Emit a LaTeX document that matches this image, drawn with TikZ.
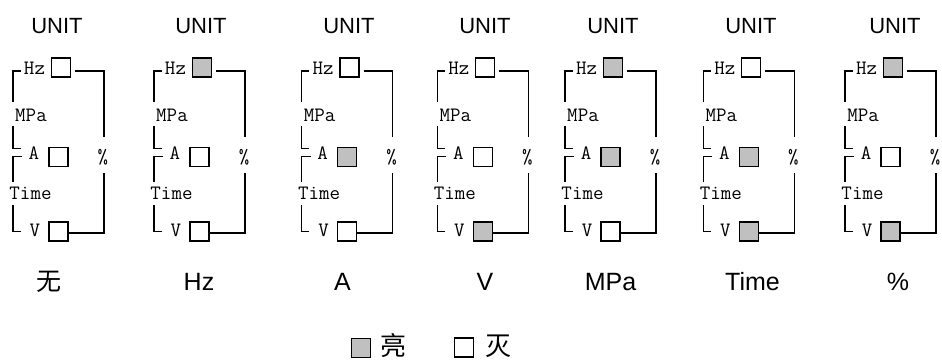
\documentclass[tikz,border=0pt]{standalone}
\usepackage{fontspec}
\newfontfamily\cjk{Noto Sans CJK SC}
\newfontfamily\arial{Liberation Sans}
\definecolor{litg}{RGB}{192,192,192}
\begin{document}
\begin{tikzpicture}[x=1pt,y=-1pt,
  lamp/.style={draw,line width=1.4pt,minimum size=19pt,inner sep=0pt},
  ptxt/.style={font=\ttfamily\fontsize{20.4}{20.4}\selectfont,inner sep=0pt,anchor=base},
  unit/.style={font=\arial\fontsize{22}{22}\selectfont,inner sep=0pt,anchor=base},
  lab/.style={font=\arial\fontsize{25}{25}\selectfont,inner sep=0pt,anchor=base},
  cjklab/.style={font=\cjk\fontsize{26}{26}\selectfont,inner sep=0pt},
  wire/.style={line width=1.4pt}]
\useasboundingbox (0,0) rectangle (942,360);
\foreach \n/\X/\hf/\af/\vf/\ux/\lab/\lx in {
  1/50.7/white/white/white/57/{\cjk 无}/49,
  2/191.7/litg/white/white/201/Hz/199,
  3/339.3/white/litg/white/349/A/342.5,
  4/475/white/white/litg/485/V/485,
  5/602.7/litg/litg/white/613/MPa/610.5,
  6/741/white/litg/litg/751/Time/752.5,
  7/882.7/litg/white/litg/895/\%/898}{
  \node[unit] (u\n) at (\ux,33.3) {UNIT};
  \node[lab] (l\n) at (\lx,290) {\lab};
  \begin{scope}[shift={(\X,0)}]
    \node[lamp,fill=\hf] (hz\n) at (10.15,67.5) {};
    \node[lamp,fill=\af] (a\n) at (7.95,157) {};
    \node[lamp,fill=\vf] (v\n) at (7.95,231.3) {};
    \node[ptxt] (thz\n) at (-16.2,74) {Hz};
    \node[ptxt] (tmpa\n) at (-19.7,121) {MPa};
    \node[ptxt] (ta\n) at (-16.7,159.5) {A};
    \node[ptxt] (ttime\n) at (-20.2,199.5) {Time};
    \node[ptxt] (tv\n) at (-15.7,236) {V};
    \node[ptxt] (tpc\n) at (52.3,163.5) {\%};
    % left brackets
    \draw[wire] (-30,71) -- (-37.7,71) -- (-37.7,102);
    \draw[wire] (-37.7,126) -- (-37.7,148.3) -- (-30,148.3);
    \draw[wire] (-28.7,156.7) -- (-37.7,156.7) -- (-37.7,182);
    \draw[wire] (-37.7,205) -- (-37.7,231.7) -- (-30,231.7);
    % right bracket
    \draw[wire] ([xshift=4pt,yshift=-3.5pt]hz\n.east) -| (53.3,137);
    \draw[wire] (53.3,173) |- ([yshift=-1.7pt]v\n.east);
  \end{scope}
}
\node[lamp,fill=litg] (lg1) at (360.7,347.8) {};
\node[cjklab] (lt1) at (393,346) {亮};
\node[lamp] (lg2) at (463.7,347.5) {};
\node[cjklab] (lt2) at (498,346) {灭};
\end{tikzpicture}
\end{document}
